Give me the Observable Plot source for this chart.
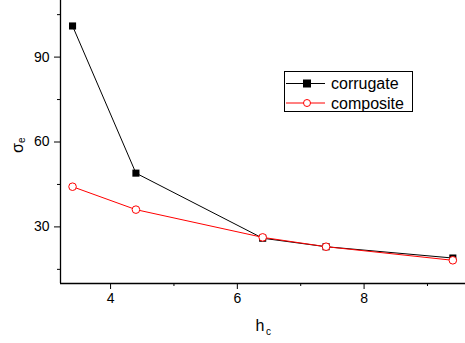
<!DOCTYPE html>
<html>
<head>
<meta charset="utf-8">
<script src="https://cdn.jsdelivr.net/npm/d3@7"></script>
<script src="https://cdn.jsdelivr.net/npm/@observablehq/plot@0.6"></script>
<style>
  html, body { margin: 0; padding: 0; background: #fff; }
  #wrap { position: relative; width: 465px; height: 343px; font-family: Arial, "Liberation Sans", sans-serif; }
  #legend { position: absolute; left: 284px; top: 71px; }
</style>
</head>
<body>
<div id="wrap"></div>
<script>
const hc = [3.4, 4.4, 6.4, 7.4, 9.4];
const corrugate = [101, 49, 26, 23, 19];
const composite = [44.2, 36.1, 26.3, 23, 18.2];
const xMajor = [4, 6, 8];
const xMinor = [5, 7, 9];
const yMajor = [30, 60, 90];
const yMinor = [15, 45, 75, 105];
const seriesNames = ["corrugate", "composite"];
const seriesColors = ["#000000", "#ff0000"];

const dCorr = hc.map((x, i) => ({x, y: corrugate[i]}));
const dComp = hc.map((x, i) => ({x, y: composite[i]}));

const chart = Plot.plot({
  width: 465,
  height: 343,
  marginLeft: 60,
  marginRight: 0,
  marginTop: 0,
  marginBottom: 60,
  style: {fontFamily: "Arial, 'Liberation Sans', sans-serif", fontSize: "14px", color: "#000", background: "#fff"},
  x: {domain: [3.21, 9.6]},
  y: {domain: [10, 110]},
  marks: [
    Plot.axisX({ticks: xMajor, tickSize: 6, tickPadding: 4, tickFormat: d => String(d), label: null, fontSize: 14}),
    Plot.axisX({ticks: xMinor, tickSize: 3, tickFormat: () => "", label: null}),
    Plot.axisY({ticks: yMajor, tickSize: 6, tickPadding: 5, tickFormat: d => String(d), label: null, fontSize: 14}),
    Plot.axisY({ticks: yMinor, tickSize: 3, tickFormat: () => "", label: null}),
    Plot.ruleX([3.21], {stroke: "#000", strokeWidth: 1.3}),
    Plot.ruleY([10], {stroke: "#000", strokeWidth: 1.3}),
    Plot.line(dCorr, {x: "x", y: "y", stroke: seriesColors[0], strokeWidth: 1}),
    Plot.line(dComp, {x: "x", y: "y", stroke: seriesColors[1], strokeWidth: 1}),
    Plot.dot(dCorr, {x: "x", y: "y", symbol: "square", r: 4, fill: seriesColors[0], stroke: "none"}),
    Plot.dot(dComp, {x: "x", y: "y", symbol: "circle", r: 3.8, fill: "#fff", stroke: seriesColors[1], strokeWidth: 1}),
    Plot.text(["h"], {frameAnchor: "bottom", dx: 1.5, dy: 47, fontSize: 16, textAnchor: "end", fill: "#000"}),
    Plot.text(["c"], {frameAnchor: "bottom", dx: 3, dy: 51, fontSize: 10, textAnchor: "start", fill: "#000"}),
    Plot.text(["σ"], {frameAnchor: "left", dx: -43, dy: 11, fontSize: 16, rotate: -90, fill: "#000"}),
    Plot.text(["e"], {frameAnchor: "left", dx: -39, dy: 1, fontSize: 10, rotate: -90, fill: "#000"})
  ]
});
chart.style.overflow = "visible";
document.getElementById("wrap").appendChild(chart);

// legend
const lg = d3.select("#wrap").append("svg").attr("id", "legend")
  .attr("width", 129).attr("height", 41)
  .style("font-family", "Arial, 'Liberation Sans', sans-serif");
lg.append("rect").attr("x", 0.5).attr("y", 0.5).attr("width", 128).attr("height", 40)
  .attr("fill", "#fff").attr("stroke", "#000").attr("stroke-width", 1);
seriesNames.forEach((name, i) => {
  const cy = 12.5 + i * 19.5;
  lg.append("line").attr("x1", 2).attr("x2", 41).attr("y1", cy).attr("y2", cy)
    .attr("stroke", seriesColors[i]).attr("stroke-width", 1);
  if (i === 0) {
    lg.append("rect").attr("x", 23 - 4).attr("y", cy - 4).attr("width", 8).attr("height", 8).attr("fill", "#000");
  } else {
    lg.append("circle").attr("cx", 23).attr("cy", cy).attr("r", 3.5).attr("fill", "#fff").attr("stroke", seriesColors[i]);
  }
  lg.append("text").attr("x", 47).attr("y", cy).attr("dy", "0.35em")
    .attr("font-size", 16).attr("fill", "#000").text(name);
});
</script>
</body>
</html>
